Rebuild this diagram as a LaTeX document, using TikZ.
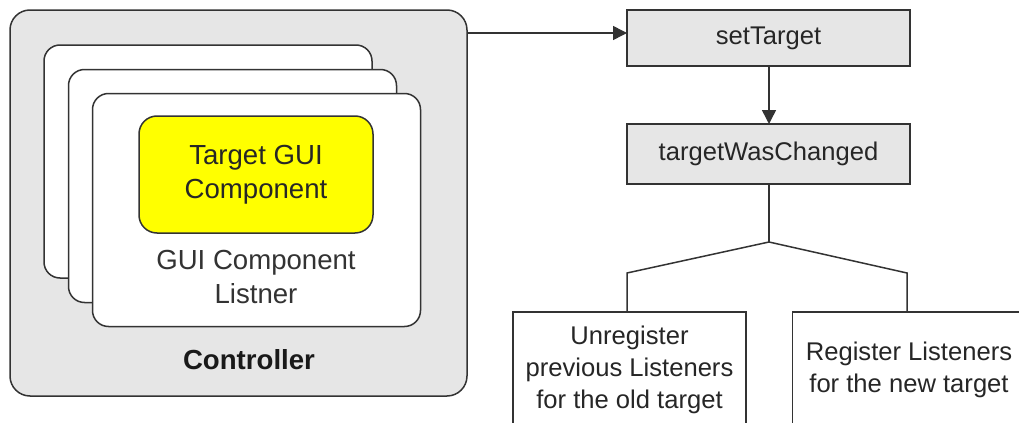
\documentclass[tikz,border=0pt]{standalone}
\usepackage{fontspec}
\setmainfont{Liberation Sans}
\usetikzlibrary{arrows.meta}
\usetikzlibrary{positioning}
\definecolor{mgray}{HTML}{E6E6E6}
\definecolor{mline}{HTML}{333333}
\definecolor{myellow}{HTML}{FFFF00}
\tikzset{
  ctrlbox/.style = {draw = mline, fill = mgray, line width = 0.75pt, rounded corners = 10pt,
    inner sep = 0, outer sep = 0, minimum width = 228.5pt, minimum height = 193pt},
  card/.style = {draw = mline, fill = white, line width = 0.75pt, rounded corners = 8pt,
    inner sep = 0, outer sep = 0, minimum width = 164pt, minimum height = 116.5pt},
  targetbox/.style = {draw = mline, fill = myellow, line width = 0.75pt, rounded corners = 9pt,
    inner sep = 0, outer sep = 0, minimum width = 117pt, minimum height = 58.5pt,
    align = center, font = \fontsize{13.8}{17}\selectfont, text = black!85},
  methodbox/.style = {draw = mline, fill = mgray, line width = 0.75pt,
    inner sep = 0, outer sep = 0, minimum width = 141.5pt,
    font = \fontsize{12.8}{16}\selectfont, text = black!85},
  actionbox/.style = {draw = mline, fill = white, line width = 0.75pt,
    inner sep = 0, outer sep = 0, minimum width = 116.5pt, minimum height = 58pt,
    align = center, font = \fontsize{12.8}{16}\selectfont, text = black!85},
  link/.style = {draw = mline, line width = 0.75pt},
  arr/.style = {link, -{Triangle[length = 7pt, width = 7pt]}}
}

\begin{document}
\begin{tikzpicture}[x = 0.5pt, y = -0.5pt]
  \path[use as bounding box, clip] (0, 0) rectangle (1019, 423);

  % controller with its stacked listeners
  \node [ctrlbox] (ctrl) at (238.5, 203) {};
  \foreach \i/\x/\y in {1/208/161.5, 2/232.5/186, 3/256.5/210} {
    \node [card] (card\i) at (\x, \y) {};
  }
  \node [targetbox] (target) at (256, 174.5) {Target GUI\\Component};
  \node [align = center, font = \fontsize{13.8}{17}\selectfont, text = black!80]
    (listner) at (256, 277) {GUI Component\\Listner};
  \node [font = \fontsize{13.8}{17}\selectfont\bfseries, text = black!90]
    (ctrlname) at (249, 360) {Controller};

  % method calls
  \node [methodbox, minimum height = 28pt] (set) at (768.5, 38) {setTarget};
  \node [methodbox, minimum height = 30pt] (changed) at (768.5, 154) {targetWasChanged};

  \node [actionbox] (unreg) at (629.5, 370) {Unregister\\previous Listeners\\for the old target};
  \node [actionbox] (reg) at (909, 370) {Register Listeners\\for the new target};

  \coordinate (ctrlout) at (467, 33);
  \coordinate (fork) at (769, 242);
  \coordinate (lknee) at (627, 273);
  \coordinate (rknee) at (907, 273);

  \draw [arr] (ctrlout) -- (ctrlout -| set.west);
  \draw [arr] (set.south -| fork) -- (changed.north -| fork);
  \draw [link] (changed.south -| fork) -- (fork);
  \draw [link] (fork) -- (lknee) -- (unreg.north -| lknee);
  \draw [link] (fork) -- (rknee) -- (reg.north -| rknee);
\end{tikzpicture}
\end{document}
